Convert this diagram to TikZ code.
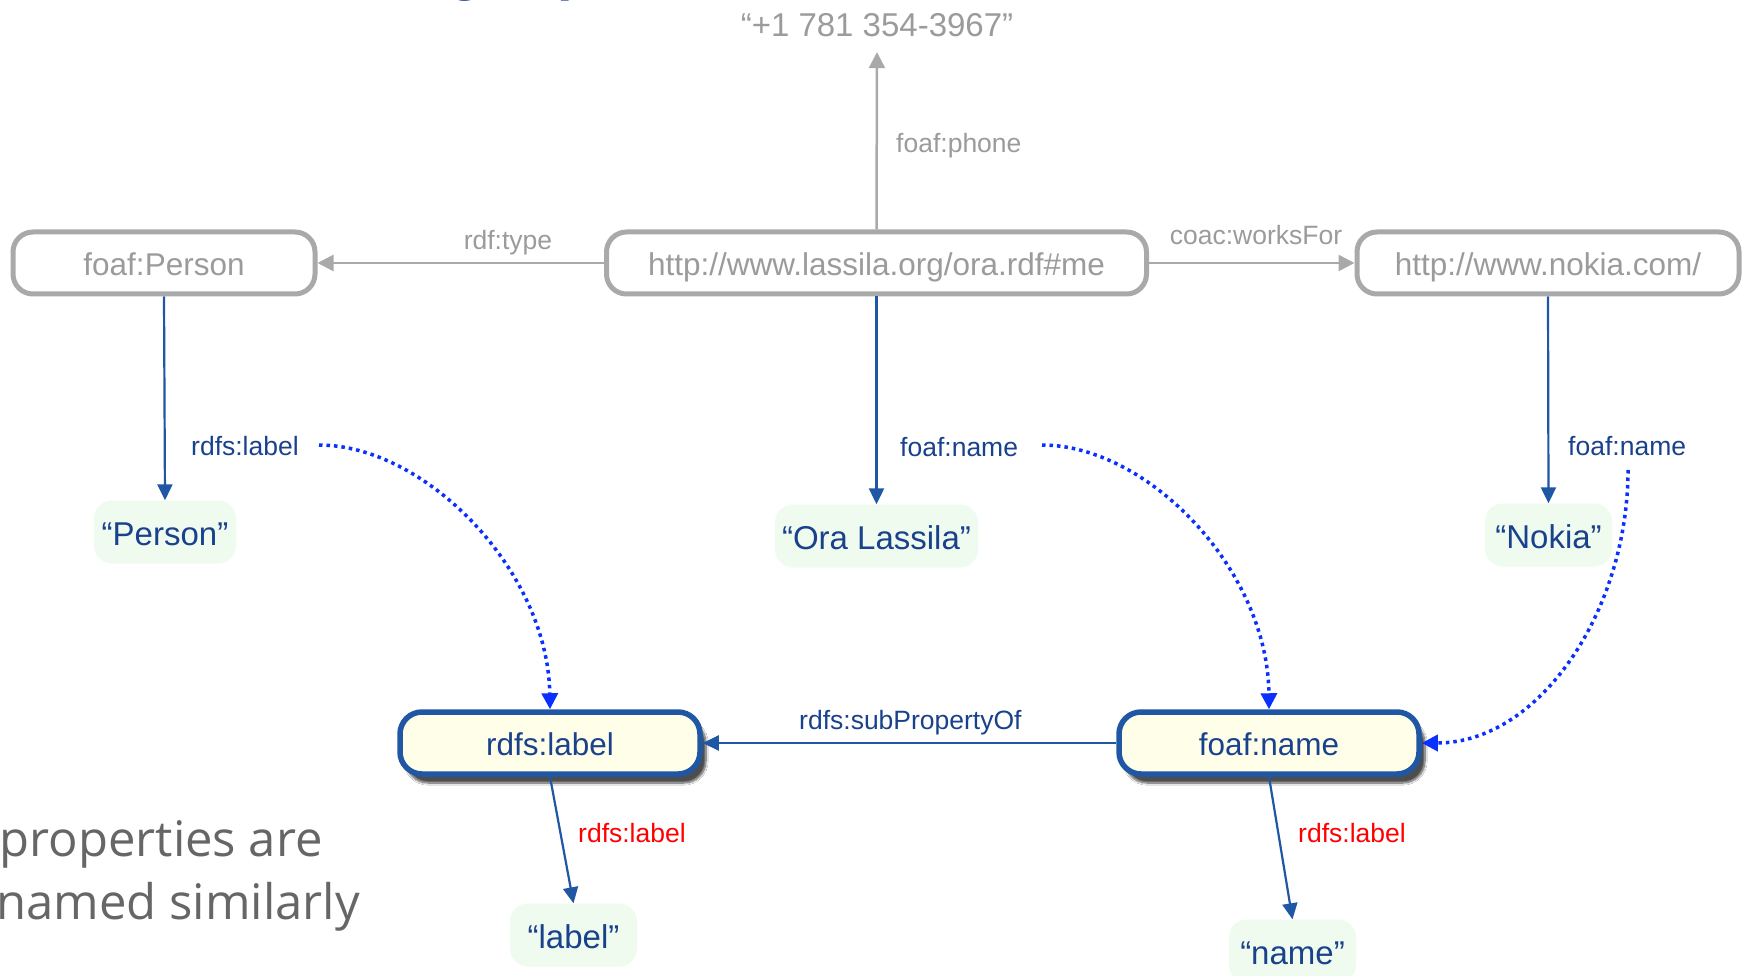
\documentclass[tikz,border=0pt]{standalone}
\usepackage{fontspec}
\setmainfont{Liberation Sans}
\newfontfamily\notefont{Open Sans}
\usetikzlibrary{arrows.meta,shadows.blur}

\definecolor{uriline}{HTML}{A9A9A9}
\definecolor{uritext}{HTML}{9B9B9B}
\definecolor{propline}{HTML}{1F57A4}
\definecolor{propfill}{HTML}{FFFFE9}
\definecolor{inktext}{HTML}{1A428C}
\definecolor{litfill}{HTML}{EFFBEF}
\definecolor{dotblue}{HTML}{0A30FF}
\definecolor{notegray}{HTML}{666666}

\begin{document}
\begin{tikzpicture}[x=1pt,y=-1pt,
  uri/.style={draw=uriline, line width=5pt, rounded corners=20pt, fill=white,
    text=uritext, font=\fontsize{31.5pt}{38pt}\selectfont, inner sep=0pt,
    minimum height=62pt, text height=24.5pt, text depth=0pt},
  prop/.style={draw=propline, line width=5.5pt, rounded corners=22pt, fill=propfill,
    text=inktext, font=\fontsize{31.5pt}{38pt}\selectfont, inner sep=0pt,
    minimum width=300pt, minimum height=62pt, text height=24.5pt, text depth=0pt,
    blur shadow={shadow xshift=6pt, shadow yshift=-9pt, shadow blur steps=10, shadow opacity=70}},
  lit/.style={fill=litfill, rounded corners=18pt, text=inktext,
    font=\fontsize{33pt}{40pt}\selectfont, inner sep=0pt, minimum height=63pt,
    text height=26pt, text depth=0pt},
  elbl/.style={font=\fontsize{26.5pt}{32pt}\selectfont, inner sep=0pt},
  grayarrow/.style={draw=uriline, line width=2.5pt, -{Triangle[length=16pt,width=16pt]}},
  bluearrow/.style={draw=propline, line width=2.2pt, -{Triangle[length=16pt,width=15pt]}},
  dotarrow/.style={draw=dotblue, line width=3.5pt, dash pattern=on 3.5pt off 4pt,
    -{Triangle[length=16pt,width=16pt]}},
  notetext/.style={font=\notefont\fontsize{49pt}{63pt}\selectfont, text=notegray,
    inner sep=0pt, anchor=base east},
]
\path[fill=white, use as bounding box] (0,0) rectangle (1743,976);

% title descenders peeking in at the top edge
\node[font=\fontsize{56pt}{60pt}\selectfont\bfseries, text=inktext, inner sep=0pt, anchor=base west] (tg) at (448,-10) {g};
\node[font=\fontsize{56pt}{60pt}\selectfont\bfseries, text=inktext, inner sep=0pt, anchor=base west] (tp) at (557,-10) {p};

% resources
\node[uri, minimum width=302pt] (person) at (164,263) {foaf:Person};
\node[uri, minimum width=540pt] (me) at (876.5,263) {http://www.lassila.org/ora.rdf\#me};
\node[uri, minimum width=382pt] (nokia) at (1548,263) {http://www.nokia.com/};
\node[text=uritext, font=\fontsize{33pt}{40pt}\selectfont, inner sep=0pt,
  minimum height=56pt, text height=26pt, text depth=0pt] (phone) at (877,24) {“+1 781 354-3967”};

% literals
\node[lit, minimum width=142pt] (lperson) at (165,532) {“Person”};
\node[lit, minimum width=203pt] (lora) at (876.5,536) {“Ora Lassila”};
\node[lit, minimum width=127pt] (lnokia) at (1548.5,535) {“Nokia”};
\node[lit, minimum width=127pt] (llabel) at (573.5,935) {“label”};
\node[lit, minimum width=127pt] (lname) at (1292.5,951) {“name”};

% properties
\node[prop] (plabel) at (550,743) {rdfs:label};
\node[prop] (pname) at (1269,743) {foaf:name};

% edge labels
\node[elbl, text=uritext, anchor=base west] (tphone) at (896,153) {foaf:phone};
\node[elbl, text=uritext, anchor=base] (ttype) at (508,250) {rdf:type};
\node[elbl, text=uritext, anchor=base] (tworks) at (1256,245) {coac:worksFor};
\node[elbl, text=inktext, anchor=base west] (tperson) at (191,455) {rdfs:label};
\node[elbl, text=inktext, anchor=base west] (tora) at (900,456) {foaf:name};
\node[elbl, text=inktext, anchor=base west] (tnokia) at (1568,455) {foaf:name};
\node[elbl, text=inktext, anchor=base west] (tsub) at (799,729) {rdfs:subPropertyOf};
\node[elbl, text=red, anchor=base west] (tl1) at (578,842) {rdfs:label};
\node[elbl, text=red, anchor=base west] (tl2) at (1298,842) {rdfs:label};

% triples
\draw[grayarrow] (me.north) -- (phone.south);
\draw[grayarrow] (me.west) -- (person.east);
\draw[grayarrow] (me.east) -- (nokia.west);
\draw[bluearrow] (person.south) -- (lperson.north);
\draw[bluearrow] (me.south) -- (lora.north);
\draw[bluearrow] (nokia.south) -- (lnokia.north);
\draw[bluearrow] (pname.west) -- (plabel.east);
\draw[bluearrow] (plabel.south) -- (llabel.north);
\draw[bluearrow] (pname.south) -- (lname.north);

% property usages pointing to their definitions
\coordinate (d1) at (319,445);
\coordinate (d2) at (1042,445);
\coordinate (d3) at (1628,470);
\draw[dotarrow] (d1) .. controls (425,445) and (548,570) .. (plabel.north);
\draw[dotarrow] (d2) .. controls (1148,445) and (1268,570) .. (pname.north);
\draw[dotarrow] (d3) .. controls (1628,610) and (1540,743) .. (pname.east);

% side note
\node[notetext] (note1) at (323,856) {properties are};
\node[notetext] (note2) at (360,919) {named similarly};
\end{tikzpicture}
\end{document}
